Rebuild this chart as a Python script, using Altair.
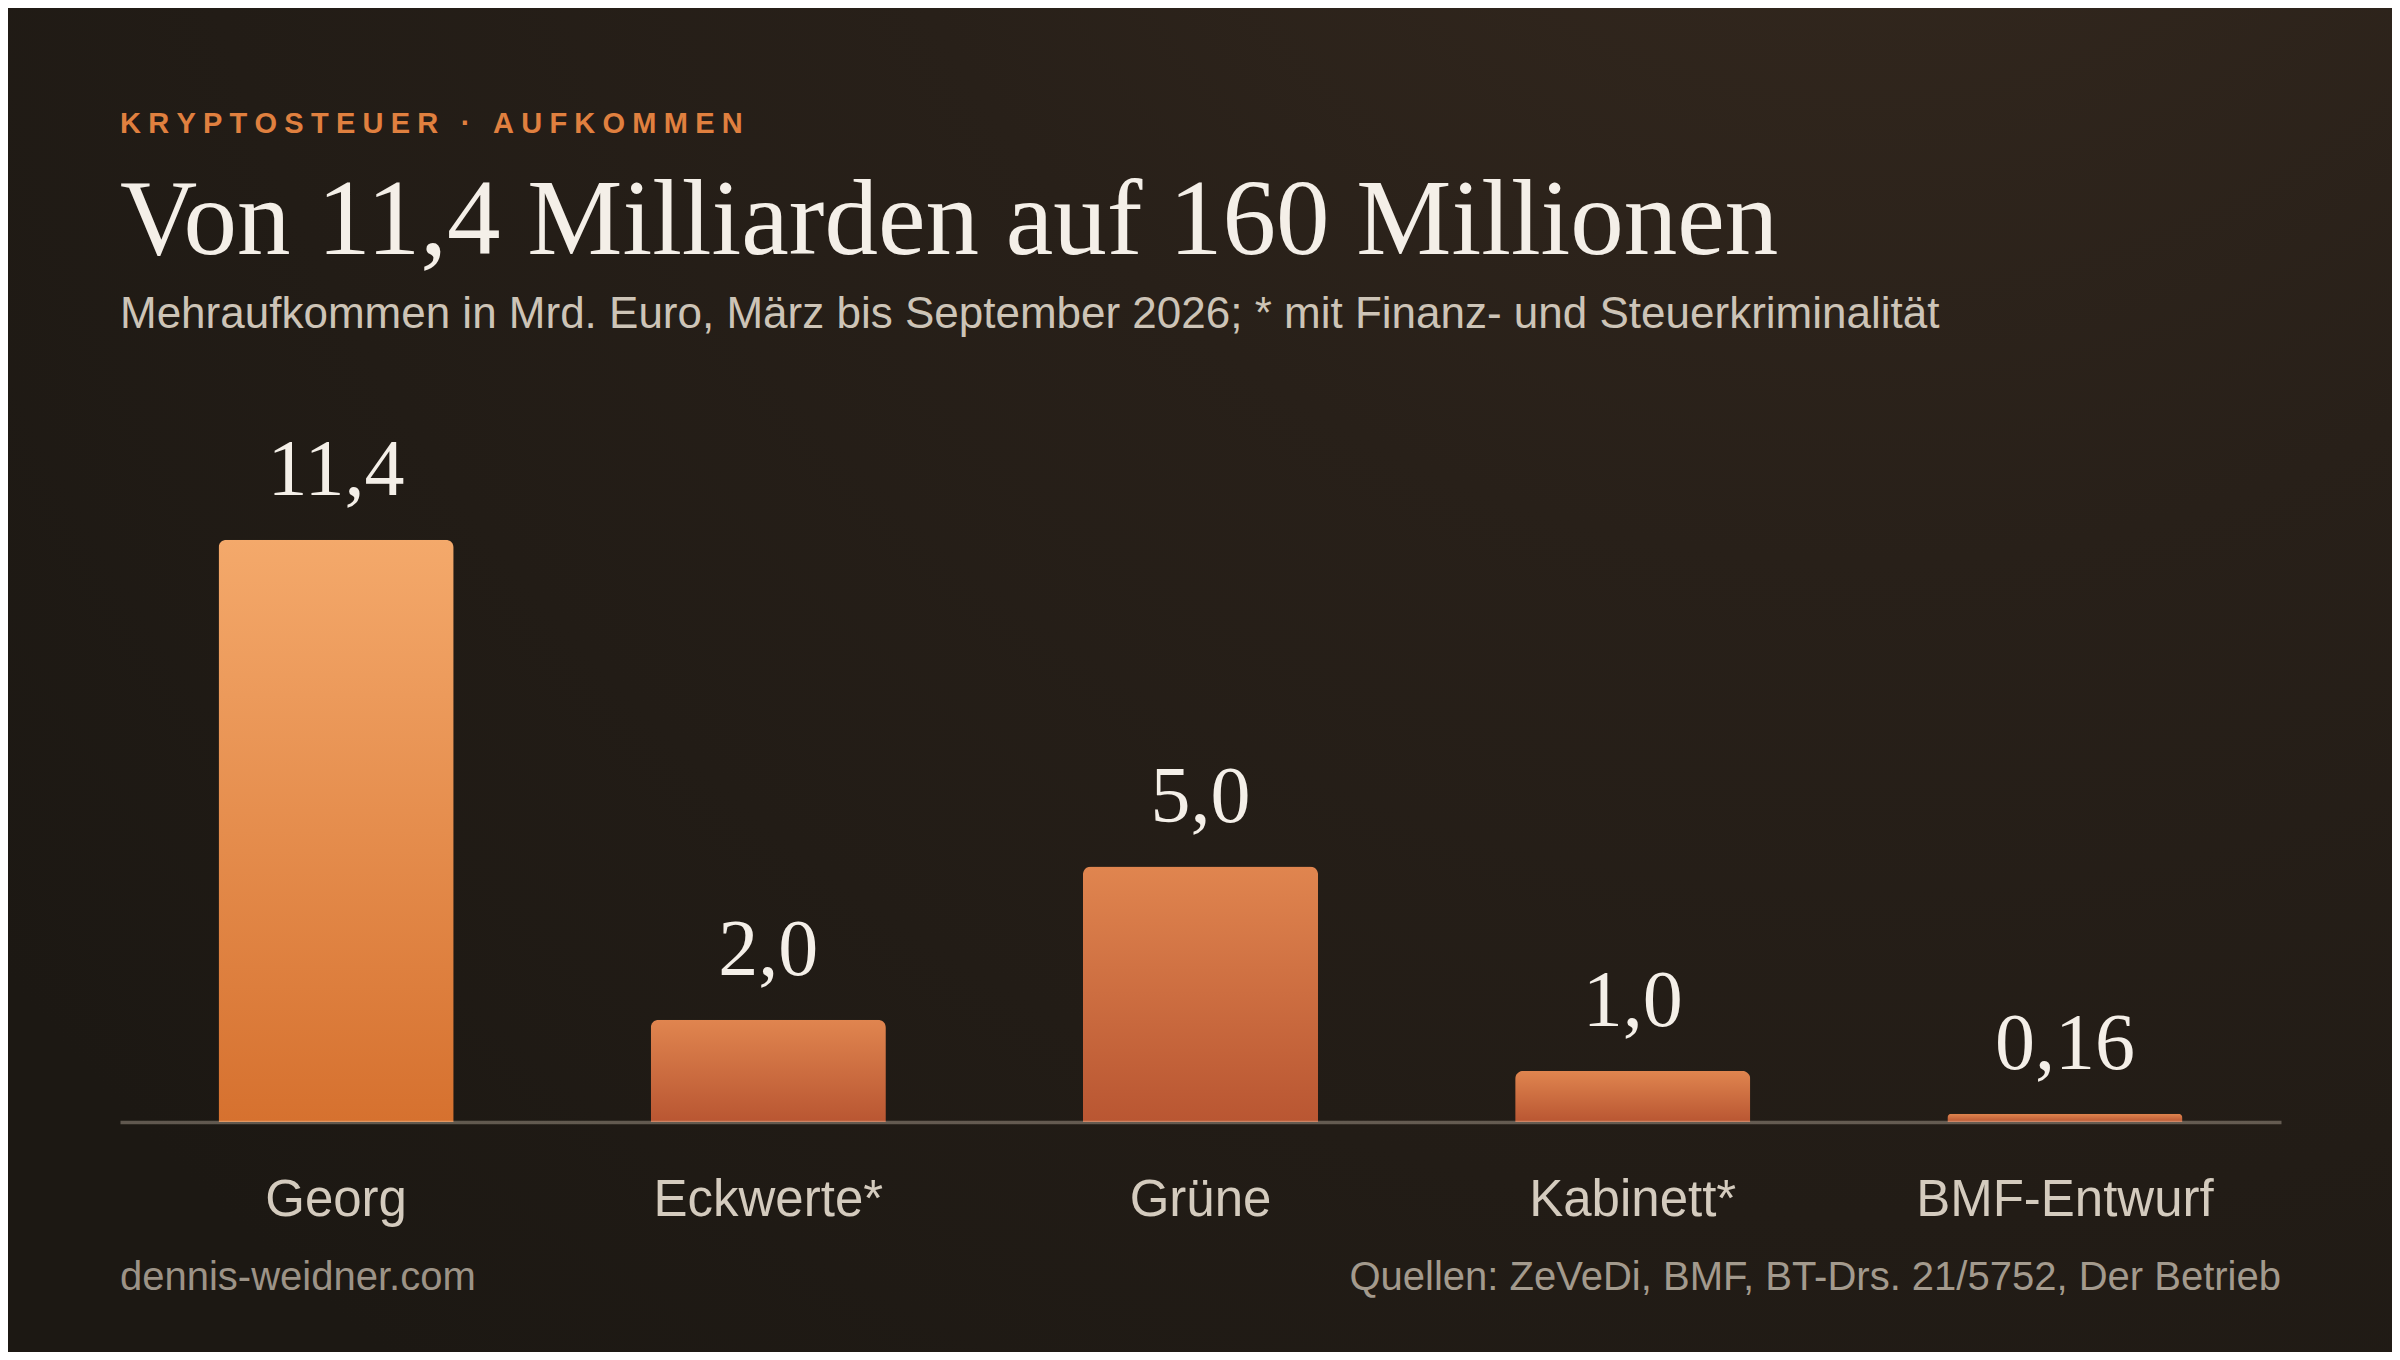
import altair as alt
import pandas as pd

# data
categories = ["Georg", "Eckwerte*", "Grüne", "Kabinett*", "BMF-Entwurf"]
values = [11.4, 2.0, 5.0, 1.0, 0.16]
value_labels = ["11,4", "2,0", "5,0", "1,0", "0,16"]
highlight = [True, False, False, False, False]

kicker = "KRYPTOSTEUER · AUFKOMMEN"
headline = "Von 11,4 Milliarden auf 160 Millionen"
subline = "Mehraufkommen in Mrd. Euro, März bis September 2026; * mit Finanz- und Steuerkriminalität"
credit = "dennis-weidner.com"
sources = "Quellen: ZeVeDi, BMF, BT-Drs. 21/5752, Der Betrieb"

W, H = 2161, 613
PAD = {"left": 112, "top": 501, "right": 111, "bottom": 230}

SANS = "Liberation Sans, Arial, Helvetica, sans-serif"
SERIF = "Liberation Serif, Times New Roman, serif"

df = pd.DataFrame({"name": categories, "value": values,
                   "label": value_labels, "highlight": highlight})
one = pd.DataFrame({"k": [0]})

# fake letter-spacing for the kicker
kicker_spaced = "\u2005".join(kicker)

bg_grad = alt.Gradient(
    gradient="radial", x1=0.78, y1=0.0, r1=0.0, x2=0.78, y2=0.0, r2=1.0,
    stops=[alt.GradientStop(color="#382b20", offset=0),
           alt.GradientStop(color="#282019", offset=0.45),
           alt.GradientStop(color="#1c1813", offset=1)])

hi_grad = alt.Gradient(
    gradient="linear", x1=0, x2=0, y1=0, y2=1,
    stops=[alt.GradientStop(color="#f4a96b", offset=0),
           alt.GradientStop(color="#d6712f", offset=1)])

lo_grad = alt.Gradient(
    gradient="linear", x1=0, x2=0, y1=0, y2=1,
    stops=[alt.GradientStop(color="#e0854f", offset=0),
           alt.GradientStop(color="#b95632", offset=1)])

x = alt.X("name:N", sort=categories, title=None,
          scale=alt.Scale(paddingInner=0.456, paddingOuter=0.228),
          axis=alt.Axis(labelFont=SANS, labelFontSize=51, labelColor="#d4cbbe",
                        labelAngle=0, labelPadding=93, labelBaseline="alphabetic",
                        labelLimit=0, ticks=False, tickSize=0, grid=False,
                        domainColor="#fff0dc", domainOpacity=0.3, domainWidth=3.5,
                        zindex=1))
y = alt.Y("value:Q", axis=None, scale=alt.Scale(domain=[0, 12]))

background = alt.Chart(one).mark_rect(color=bg_grad).encode(
    x=alt.value(-PAD["left"]), x2=alt.value(W + PAD["right"]),
    y=alt.value(-PAD["top"]), y2=alt.value(H + PAD["bottom"]))

base = alt.Chart(df)

bars_hi = base.mark_bar(color=hi_grad, cornerRadiusTopLeft=8, cornerRadiusTopRight=8).encode(
    x=x, y=y).transform_filter("datum.highlight")

bars_lo = base.mark_bar(color=lo_grad, cornerRadiusTopLeft=8, cornerRadiusTopRight=8).encode(
    x=x, y=y).transform_filter("!datum.highlight")

labels = base.mark_text(font=SERIF, fontSize=80, color="#f4efe8",
                        baseline="alphabetic", dy=-45).encode(
    x=x, y=y, text="label:N")


def note(text, ypos, size, color, font=SANS, weight="normal", align="left", xpos=0):
    return alt.Chart(one).mark_text(
        text=text, font=font, fontSize=size, fontWeight=weight, color=color,
        align=align, baseline="alphabetic").encode(
        x=alt.value(xpos), y=alt.value(ypos))


header = (
    note(kicker_spaced, -376, 29, "#e0803f", weight="bold")
    + note(headline, -255, 107, "#f4efe8", font=SERIF)
    + note(subline, -181, 44, "#cdc4b7")
    + note(credit, 781, 40, "#9c9387")
    + note(sources, 781, 40, "#a39a8d", align="right", xpos=W)
)

chart = alt.layer(background, bars_lo, bars_hi, labels, header).properties(
    width=W, height=H, padding=PAD,
    autosize=alt.AutoSizeParams(type="none"),
).configure(background="#1e1a14").configure_view(strokeWidth=0)

chart.save("out.html", embed_options={"renderer": "svg", "actions": False})
